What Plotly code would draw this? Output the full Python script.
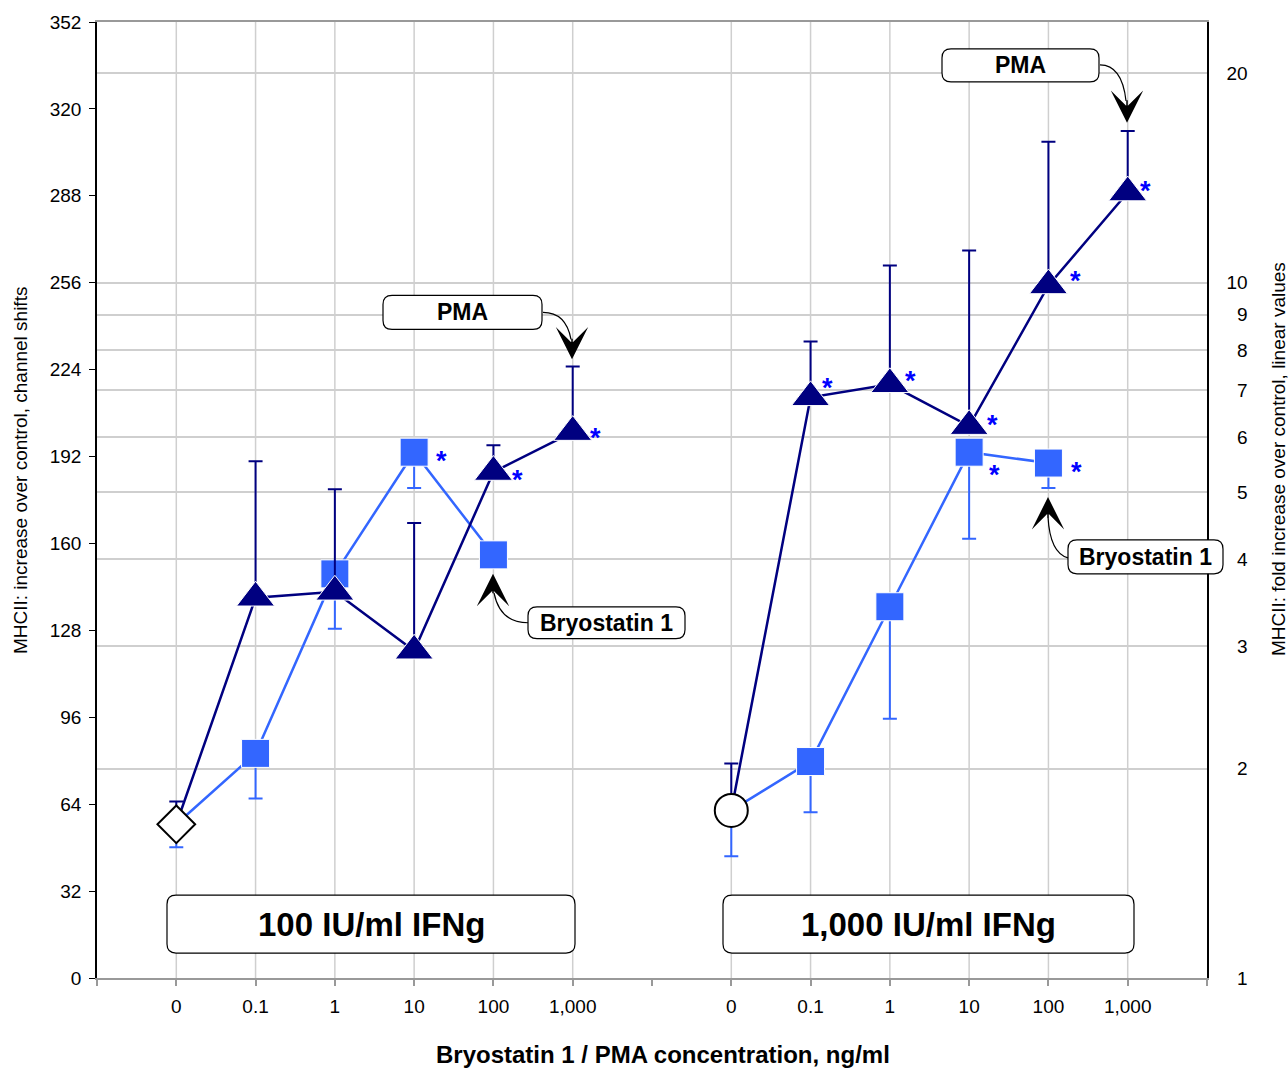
import plotly.graph_objects as go

# ---------------- data ----------------
conc_labels = ["0", "0.1", "1", "10", "100", "1,000"]
group_labels = ["100 IU/ml IFNg", "1,000 IU/ml IFNg"]

# control (IFNg only), channel shifts
control_mean = [56.6, 61.7]
control_err_up = [8.4, 17.3]
control_err_down = [8.5, 16.9]

# Bryostatin 1 at 0.1, 1, 10, 100 ng/ml
bryo_100_mean = [82.7, 148.8, 193.6, 155.8]
bryo_100_err = [16.6, 20.2, 13.2, 0.0]
bryo_100_sig = [False, False, True, False]
bryo_1000_mean = [79.7, 136.7, 193.6, 189.6]
bryo_1000_err = [18.7, 41.2, 31.9, 9.2]
bryo_1000_sig = [False, False, True, True]

# PMA at 0.1, 1, 10, 100, 1,000 ng/ml
pma_100_mean = [140.0, 142.2, 120.5, 186.3, 201.0]
pma_100_err = [50.3, 37.8, 47.0, 9.9, 24.2]
pma_100_sig = [False, False, False, True, True]
pma_1000_mean = [213.8, 218.6, 203.2, 255.0, 289.2]
pma_1000_err = [20.6, 43.7, 64.7, 52.9, 22.7]
pma_1000_sig = [True, True, True, True, True]

channel_ticks = list(range(0, 353, 32))
fold_ticks = [1, 2, 3, 4, 5, 6, 7, 8, 9, 10, 20]

# ---------------- styling ----------------
FONT = "Liberation Sans, Arial, sans-serif"
DARK = "#000080"
LIGHT = "#3366FF"
STAR = "#0000FF"
GRID = "#cfcfcf"

W, H = 1288, 1068
L, R, T, B = 97, 1207, 20, 978
GAP = 7  # x offset of the second IFNg group (one empty slot between groups)


def P(px, py):
    return (px - L) / (R - L), (B - py) / (B - T)


def rounded_path(x0, y0, x1, y1, r=9):
    def p(x, y):
        a, b = P(x, y)
        return f"{a:.5f},{b:.5f}"
    return (f"M {p(x0 + r, y0)} L {p(x1 - r, y0)} Q {p(x1, y0)} {p(x1, y0 + r)} "
            f"L {p(x1, y1 - r)} Q {p(x1, y1)} {p(x1 - r, y1)} "
            f"L {p(x0 + r, y1)} Q {p(x0, y1)} {p(x0, y1 - r)} "
            f"L {p(x0, y0 + r)} Q {p(x0, y0)} {p(x0 + r, y0)} Z")


def curve_path(a, c, b):
    pa, pc, pb = P(*a), P(*c), P(*b)
    return (f"M {pa[0]:.5f},{pa[1]:.5f} Q {pc[0]:.5f},{pc[1]:.5f} "
            f"{pb[0]:.5f},{pb[1]:.5f}")


fig = go.Figure()

groups = [
    dict(base=0, bryo=bryo_100_mean, bryo_err=bryo_100_err, bryo_sig=bryo_100_sig,
         pma=pma_100_mean, pma_err=pma_100_err, pma_sig=pma_100_sig, ci=0),
    dict(base=GAP, bryo=bryo_1000_mean, bryo_err=bryo_1000_err, bryo_sig=bryo_1000_sig,
         pma=pma_1000_mean, pma_err=pma_1000_err, pma_sig=pma_1000_sig, ci=1),
]

for g in groups:
    base, ci = g["base"], g["ci"]
    # Bryostatin 1 (light blue squares, lower error bars)
    bx = [base] + [base + i + 1 for i in range(len(g["bryo"]))]
    by = [control_mean[ci]] + g["bryo"]
    fig.add_trace(go.Scatter(
        x=bx, y=by, mode="lines+markers",
        line=dict(color=LIGHT, width=2.5),
        marker=dict(symbol="square", size=[0] + [28] * len(g["bryo"]), color=LIGHT,
                    opacity=1, line=dict(color="white", width=1)),
        error_y=dict(type="data", symmetric=False,
                     array=[0] * len(by),
                     arrayminus=[control_err_down[ci]] + g["bryo_err"],
                     color=LIGHT, thickness=2, width=7),
        showlegend=False, hoverinfo="skip"))

for g in groups:
    base, ci = g["base"], g["ci"]
    # PMA (navy triangles, upper error bars)
    px_ = [base] + [base + i + 1 for i in range(len(g["pma"]))]
    py_ = [control_mean[ci]] + g["pma"]
    fig.add_trace(go.Scatter(
        x=px_, y=py_, mode="lines+markers",
        line=dict(color=DARK, width=2.5),
        marker=dict(symbol="triangle-up", size=[0] + [33] * len(g["pma"]), color=DARK,
                    opacity=1, line=dict(color="white", width=1)),
        error_y=dict(type="data", symmetric=False,
                     array=[control_err_up[ci]] + g["pma_err"],
                     arrayminus=[0] * len(py_),
                     color=DARK, thickness=2, width=7),
        showlegend=False, hoverinfo="skip"))

# control markers (open diamond / open circle)
fig.add_trace(go.Scatter(
    x=[groups[0]["base"], groups[1]["base"]], y=control_mean, mode="markers",
    marker=dict(symbol=["diamond", "circle"], size=[29, 33], color="white",
                opacity=1, line=dict(color="black", width=2)),
    showlegend=False, hoverinfo="skip"))

# dummy trace to activate the right (fold) axis
fig.add_trace(go.Scatter(x=[None], y=[None], yaxis="y2", showlegend=False,
                         hoverinfo="skip"))

annotations = []
shapes = []

# vertical gridlines at the category positions
for g in groups:
    for i in range(len(conc_labels)):
        shapes.append(dict(type="line", xref="x", yref="paper", x0=g["base"] + i,
                           x1=g["base"] + i, y0=0, y1=1,
                           line=dict(color=GRID, width=1.5), layer="below"))

# significance asterisks (offsets in px: dx right, dy down)
star_offsets = {
    (0, "bryo", 2): (27, 2), (0, "pma", 3): (24, 1), (0, "pma", 4): (23, -1),
    (1, "pma", 0): (17, -16), (1, "pma", 1): (21, -10), (1, "pma", 2): (23, -8),
    (1, "bryo", 2): (25, 16), (1, "bryo", 3): (28, 2), (1, "pma", 3): (27, -11),
    (1, "pma", 4): (18, -9),
}
for g in groups:
    for key in ("bryo", "pma"):
        for i, (v, s) in enumerate(zip(g[key], g[key + "_sig"])):
            if s:
                dx, dy = star_offsets.get((g["ci"], key, i), (24, 0))
                annotations.append(dict(
                    x=g["base"] + i + 1, y=v, xref="x", yref="y", text="<b>*</b>",
                    showarrow=False, xshift=dx, yshift=-(dy + 7),
                    xanchor="center", yanchor="middle",
                    font=dict(family=FONT, size=27, color=STAR)))

# rounded label boxes
boxes = [
    ((383, 294, 542, 328), "PMA", 23),
    ((528, 606, 685, 638), "Bryostatin 1", 23),
    ((942, 47, 1099, 80), "PMA", 23),
    ((1068, 539, 1223, 573), "Bryostatin 1", 23),
    ((167, 895, 575, 953), group_labels[0], 33),
    ((723, 895, 1134, 953), group_labels[1], 33),
]
for (x0, y0, x1, y1), txt, fs in boxes:
    shapes.append(dict(type="path", xref="paper", yref="paper",
                       path=rounded_path(x0, y0, x1, y1),
                       fillcolor="white", line=dict(color="black", width=1.2),
                       layer="above"))
    cx, cy = P((x0 + x1) / 2, (y0 + y1) / 2)
    annotations.append(dict(x=cx, y=cy, xref="paper", yref="paper",
                            text=f"<b>{txt}</b>", showarrow=False,
                            xanchor="center", yanchor="middle",
                            font=dict(family=FONT, size=fs, color="black")))

# curved arrows
arrows = [
    ((543, 311), (566, 311), (571, 338), (572, 358), -22),
    ((1100, 63), (1122, 63), (1126, 99), (1127, 121), -24),
    ((528, 622), (500, 622), (494, 592), (493, 573), 21),
    ((1068, 557), (1050, 552), (1048, 516), (1048, 496), 22),
]
for a, c, b, tip, ay in arrows:
    shapes.append(dict(type="path", xref="paper", yref="paper",
                       path=curve_path(a, c, b), line=dict(color="black", width=1.2),
                       fillcolor="rgba(0,0,0,0)", layer="above"))
    tx, ty = P(*tip)
    annotations.append(dict(x=tx, y=ty, xref="paper", yref="paper", text="",
                            showarrow=True, arrowhead=3, arrowsize=3.6,
                            arrowwidth=1.5, arrowcolor="black", ax=0, ay=ay,
                            standoff=0))

# axis titles
ax_, ay_ = P(20, 469)
annotations.append(dict(x=ax_, y=ay_, xref="paper", yref="paper", showarrow=False,
                        xanchor="center", yanchor="middle",
                        text="MHCII: increase over control, channel shifts",
                        textangle=-90, font=dict(family=FONT, size=19, color="black")))
ax_, ay_ = P(1278, 458)
annotations.append(dict(x=ax_, y=ay_, xref="paper", yref="paper", showarrow=False,
                        xanchor="center", yanchor="middle",
                        text="MHCII: fold increase over control, linear values",
                        textangle=-90, font=dict(family=FONT, size=19, color="black")))
ax_, ay_ = P(663, 1055)
annotations.append(dict(x=ax_, y=ay_, xref="paper", yref="paper", showarrow=False,
                        xanchor="center", yanchor="middle",
                        text="<b>Bryostatin 1 / PMA concentration, ng/ml</b>",
                        font=dict(family=FONT, size=24, color="black")))

# x ticks: every slot gets a tick mark, only categories get labels
x_tickvals = list(range(-1, 2 * GAP))
x_ticktext = []
for v in x_tickvals:
    if 0 <= v < len(conc_labels):
        x_ticktext.append(conc_labels[v])
    elif GAP <= v < GAP + len(conc_labels):
        x_ticktext.append(conc_labels[v - GAP])
    else:
        x_ticktext.append("")

fold_text = [("\u2007" + str(v)) if v < 10 else str(v) for v in fold_ticks]

fig.update_layout(
    width=W, height=H,
    margin=dict(l=L, r=W - R, t=T, b=H - B, pad=0),
    paper_bgcolor="white", plot_bgcolor="white",
    font=dict(family=FONT, size=19, color="black"),
    xaxis=dict(range=[-1, 2 * GAP - 1], tickmode="array", tickvals=x_tickvals,
               ticktext=x_ticktext, ticks="outside", ticklen=6, tickcolor="#999999",
               tickwidth=1.5, showline=True, linecolor="#999999", linewidth=2,
               mirror=True, showgrid=False, zeroline=False, ticklabelstandoff=4,
               tickfont=dict(family=FONT, size=19, color="black")),
    yaxis=dict(range=[0, 352], tickmode="array", tickvals=channel_ticks,
               ticks="outside", ticklen=6, tickcolor="black", showline=True,
               linecolor="black", linewidth=1.5, showgrid=False, zeroline=False,
               ticklabelstandoff=4,
               tickfont=dict(family=FONT, size=19, color="black")),
    yaxis2=dict(type="log", range=[0, 352 / 256], overlaying="y", side="right",
                tickmode="array", tickvals=fold_ticks, ticktext=fold_text,
                ticks="", showline=True, linecolor="black", linewidth=1.5,
                showgrid=True, gridcolor=GRID, gridwidth=1.5, zeroline=False,
                ticklabelstandoff=14,
                tickfont=dict(family=FONT, size=19, color="black")),
    shapes=shapes, annotations=annotations, showlegend=False,
)

fig.write_html("out.html")
